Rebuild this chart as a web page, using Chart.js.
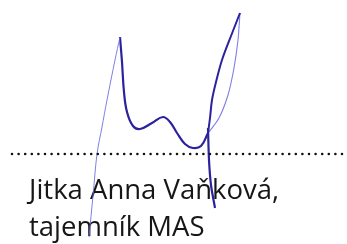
<!DOCTYPE html>
<html>
<head>
<meta charset="utf-8">
<script src="https://cdn.jsdelivr.net/npm/chart.js@4"></script>
<style>
  html, body { margin: 0; padding: 0; background: #fff; }
  #sig { display: block; }
</style>
</head>
<body>
<canvas id="sig" width="347" height="244"></canvas>
<script>
// signature strokes (x to the right, y downward)
const thinLeft = [[89, 237], [93, 196], [97, 154], [102, 127], [107, 100], [115, 60], [120, 37]];
const waveStroke = [[120, 37], [122, 62], [124, 92], [127, 112], [133, 126], [140, 129], [152, 123], [163, 117],
  [170, 122], [177, 133], [185, 144], [193, 148], [201, 146], [208, 133]];
const downStroke = [[208, 128], [209, 160], [211, 185], [215, 208]];
const loopThick = [[208, 133], [210, 118], [212, 100], [216, 82], [222, 60], [231, 36], [240, 13]];
const loopThin = [[240, 13], [238, 40], [234, 68], [228, 95], [219, 118], [209, 132]];
// row of dots under the signature
const dotRow = [[12, 154], [344, 154]];
const nameLines = ['Jitka Anna Vaňková,', 'tajemník MAS'];

const pts = arr => arr.map(([x, y]) => ({ x, y }));

const inkDark = 'rgb(44, 34, 158)';
const inkLight = 'rgba(105, 105, 225, 0.85)';

const nameText = {
  id: 'nameText',
  beforeDatasetsDraw(chart) {
    const ctx = chart.ctx;
    ctx.save();
    ctx.font = '27.5px "Open Sans"';
    ctx.fillStyle = '#161616';
    ctx.textBaseline = 'alphabetic';
    ctx.fillText(nameLines[0], 29, 199);
    ctx.fillText(nameLines[1], 29, 236);
    ctx.restore();
  }
};

new Chart(document.getElementById('sig'), {
  type: 'scatter',
  data: {
    datasets: [
      { data: pts(dotRow), borderColor: '#111', borderWidth: 2.6, borderDash: [0, 6.6], borderCapStyle: 'round', tension: 0 },
      { data: pts(thinLeft), borderColor: inkLight, borderWidth: 1, tension: 0.3 },
      { data: pts(waveStroke), borderColor: inkDark, borderWidth: 2.2, tension: 0.4 },
      { data: pts(downStroke), borderColor: inkDark, borderWidth: 2.2, tension: 0.3 },
      { data: pts(loopThick), borderColor: inkDark, borderWidth: 2, tension: 0.3 },
      { data: pts(loopThin), borderColor: inkLight, borderWidth: 1.1, tension: 0.25 }
    ].map(d => Object.assign({ showLine: true, pointRadius: 0, borderJoinStyle: 'round', fill: false }, d))
  },
  options: {
    responsive: false,
    animation: false,
    devicePixelRatio: 1,
    layout: { padding: 0 },
    plugins: { legend: { display: false }, tooltip: { enabled: false } },
    elements: { line: { capBezierPoints: false } },
    scales: {
      x: { type: 'linear', min: 0, max: 347, display: false },
      y: { type: 'linear', min: 0, max: 244, reverse: true, display: false }
    }
  },
  plugins: [nameText]
});
</script>
</body>
</html>
